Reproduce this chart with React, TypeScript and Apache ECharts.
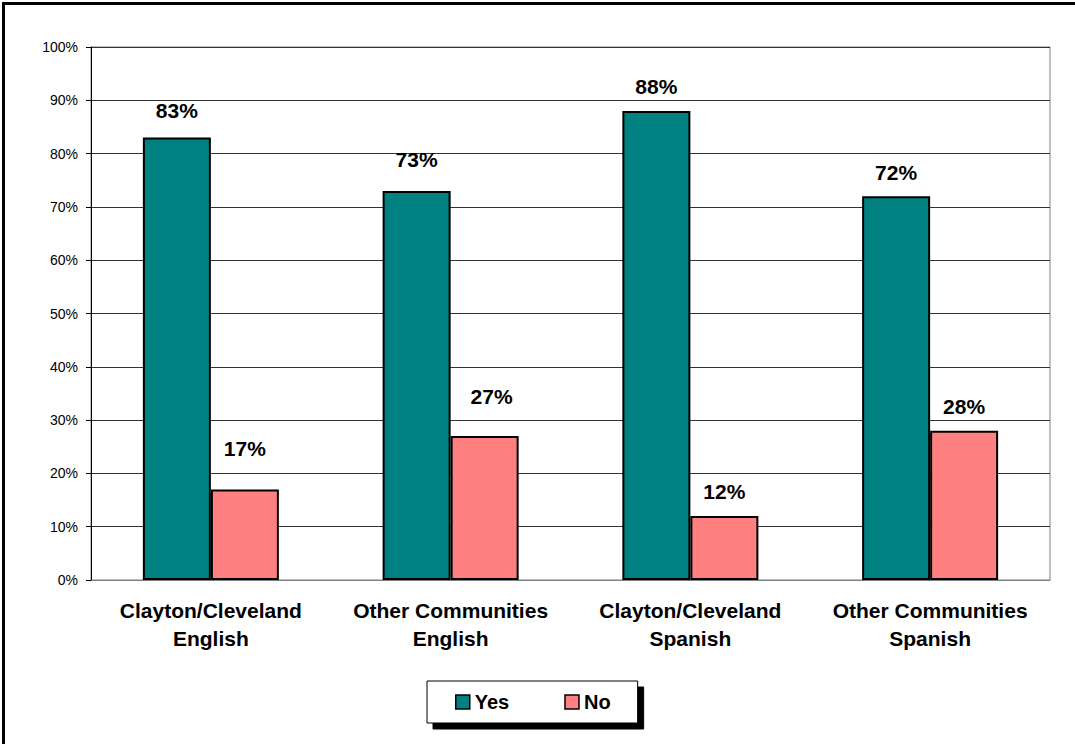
import React, { useEffect, useRef } from "react";
import * as echarts from "echarts";

const categories = [
  "Clayton/Cleveland\nEnglish",
  "Other Communities\nEnglish",
  "Clayton/Cleveland\nSpanish",
  "Other Communities\nSpanish",
];
const yesValues = [83, 73, 88, 72];
const noValues = [17, 27, 12, 28];
const seriesNames = ["Yes", "No"];

// label placement tweaks (as placed in the original chart)
const yesLabelDistance = [16.5, 20.5, 14, 13.5];
const noLabelDistance = [30.5, 29.5, 14, 13.5];
const noLabelShiftX = [0, 7, 0, 0];

const FONT = "'Liberation Sans', Arial, Helvetica, sans-serif";

export default function App() {
  const ref = useRef<HTMLDivElement>(null);
  useEffect(() => {
    if (!ref.current) return;
    const chart = echarts.init(ref.current, null, { renderer: "svg" });
    const labelCfg = {
      show: true,
      position: "top",
      distance: 14,
      formatter: "{c}%",
      color: "#000",
      fontSize: 21,
      fontWeight: "bold",
      fontFamily: FONT,
    };
    chart.setOption({
      animation: false,
      backgroundColor: "#fff",
      textStyle: { fontFamily: FONT },
      grid: {
        left: 91,
        top: 47,
        right: 25,
        bottom: 164,
        show: true,
        borderColor: "#808080",
        borderWidth: 1,
      },
      legend: {
        left: 427,
        top: 681,
        orient: "horizontal",
        padding: [11, 27, 11, 28],
        itemGap: 55,
        itemWidth: 14,
        itemHeight: 14,
        backgroundColor: "#fff",
        borderColor: "#000",
        borderWidth: 1,
        shadowColor: "#000",
        shadowBlur: 0,
        shadowOffsetX: 6,
        shadowOffsetY: 6,
        textStyle: {
          color: "#000",
          fontSize: 20,
          fontWeight: "bold",
          fontFamily: FONT,
        },
        data: [
          {
            name: seriesNames[0],
            icon: "rect",
            itemStyle: { color: "#008080", borderColor: "#000", borderWidth: 1.5 },
          },
          {
            name: seriesNames[1],
            icon: "rect",
            itemStyle: { color: "#FF8080", borderColor: "#000", borderWidth: 1.5 },
          },
        ],
      },
      xAxis: {
        type: "category",
        data: categories,
        axisLine: { show: true, lineStyle: { color: "#808080", width: 1 } },
        axisTick: { show: false },
        axisLabel: {
          color: "#000",
          fontSize: 21,
          fontWeight: "bold",
          fontFamily: FONT,
          lineHeight: 28,
          margin: 16,
          interval: 0,
        },
      },
      yAxis: {
        type: "value",
        min: 0,
        max: 100,
        interval: 10,
        axisLine: { show: true, lineStyle: { color: "#000", width: 1 } },
        axisTick: { show: true, length: 5, lineStyle: { color: "#000" } },
        axisLabel: {
          formatter: "{value}%",
          color: "#000",
          fontSize: 14,
          fontFamily: FONT,
          margin: 13,
        },
        splitLine: { show: true, lineStyle: { color: "#333", width: 1 } },
      },
      series: [
        {
          name: seriesNames[0],
          type: "bar",
          data: yesValues.map((v, i) => ({
            value: v,
            label: { distance: yesLabelDistance[i] },
          })),
          barWidth: 68,
          barGap: "0%",
          itemStyle: { color: "#008080", borderColor: "#000", borderWidth: 2 },
          label: labelCfg,
        },
        {
          name: seriesNames[1],
          type: "bar",
          data: noValues.map((v, i) => ({
            value: v,
            label: { distance: noLabelDistance[i], offset: [noLabelShiftX[i], 0] },
          })),
          barWidth: 68,
          barGap: "0%",
          itemStyle: { color: "#FF8080", borderColor: "#000", borderWidth: 2 },
          label: labelCfg,
        },
      ],
      graphic: [
        {
          type: "rect",
          shape: { x: 3.5, y: 3.5, width: 1200, height: 900 },
          style: { fill: "none", stroke: "#000", lineWidth: 3 },
          silent: true,
          z: 100,
        },
      ],
    });
    return () => chart.dispose();
  }, []);
  return (
    <div
      ref={ref}
      style={{ position: "absolute", left: 0, top: 0, width: 1075, height: 744 }}
    />
  );
}
